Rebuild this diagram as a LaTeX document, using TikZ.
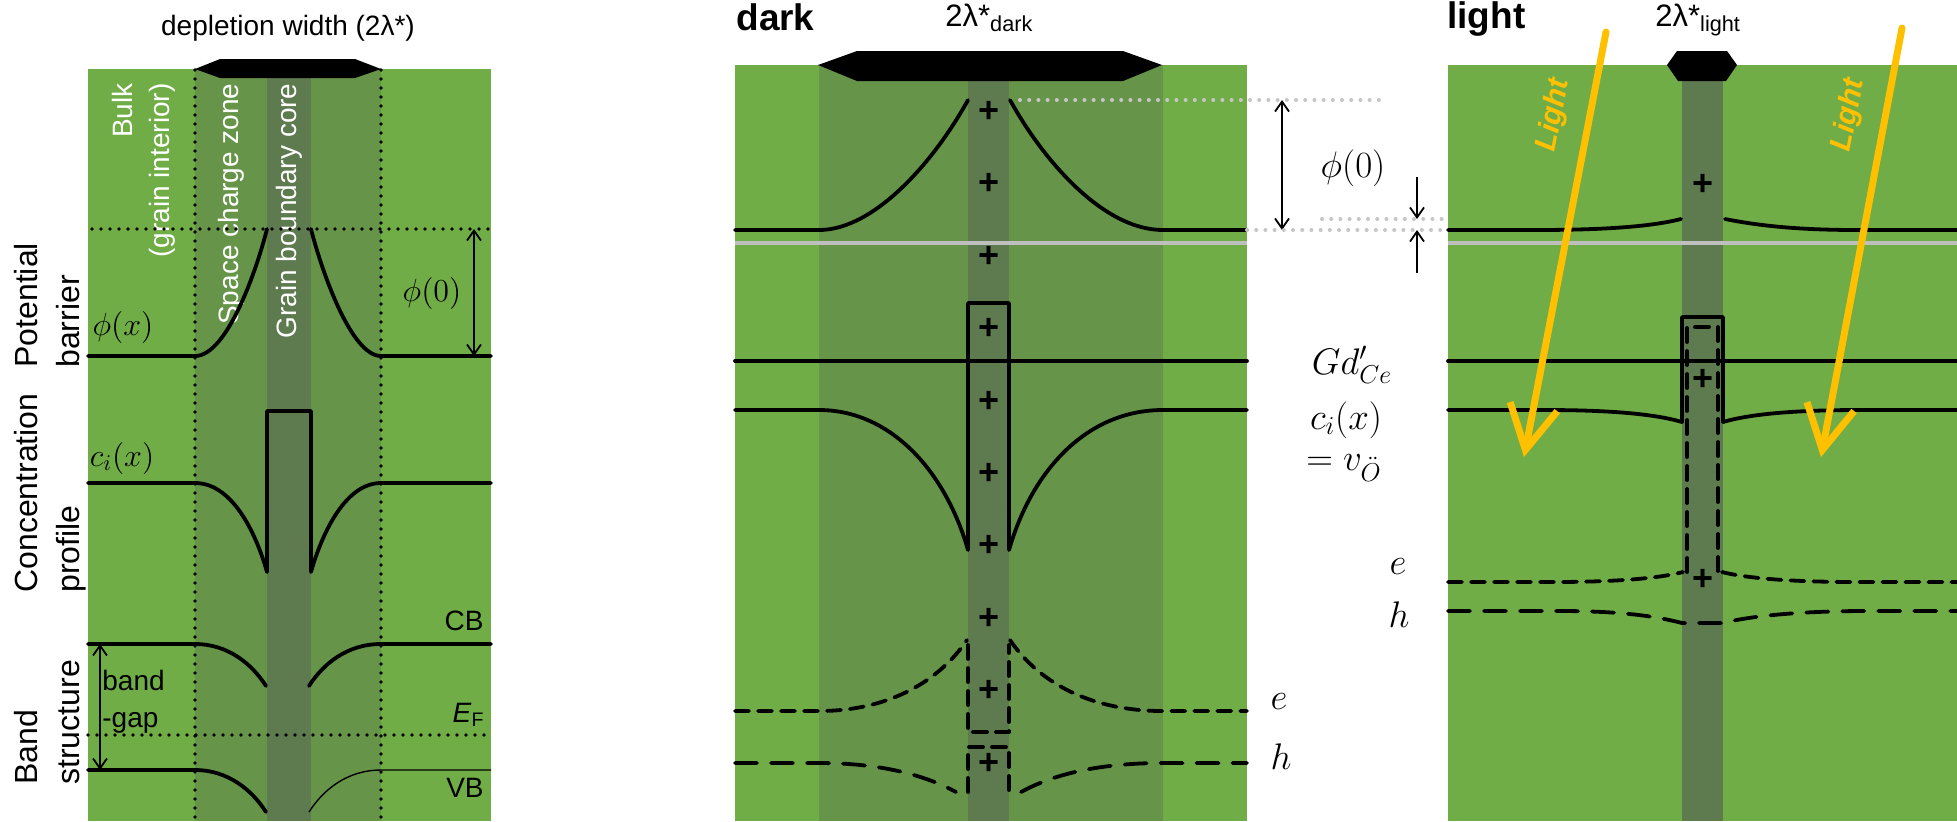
\RequirePackage{fix-cm}
\documentclass[tikz,border=0pt]{standalone}
\usepackage{fontspec}
\setmainfont{Liberation Sans}
\setsansfont{Liberation Sans}
\usepackage{graphicx}
\usetikzlibrary{arrows.meta,positioning}

\definecolor{grain}{HTML}{70AD47}
\definecolor{scz}{HTML}{66954A}
\definecolor{gbcore}{HTML}{5E7A4F}
\definecolor{dotgray}{HTML}{C6C6C6}
\definecolor{linegray}{HTML}{BFBFBF}
\definecolor{lightorange}{HTML}{FFC000}

\begin{document}
\begin{tikzpicture}[x=0.5pt,y=-0.5pt,
  every node/.style={inner sep=0pt},
  bandline/.style={line width=1.9pt,line cap=round,line join=round},
  thinline/.style={line width=0.7pt},
  edash/.style={bandline,dash pattern=on 7pt off 4.5pt},
  hdash/.style={bandline,dash pattern=on 11pt off 7pt},
  bdots/.style={line width=1.9pt,line cap=round,dash pattern=on 0pt off 4.5pt},
  gdots/.style={draw=dotgray,line width=2pt,line cap=round,dash pattern=on 0pt off 4.6pt},
  greyline/.style={draw=linegray,line width=2pt},
  dimarrow/.style={line width=0.9pt,{Straight Barb[length=5pt,width=7pt]}-{Straight Barb[length=5pt,width=7pt]}},
  smallarrow/.style={line width=0.9pt,-{Straight Barb[length=5pt,width=7pt]}},
  lightray/.style={draw=lightorange,line width=3.5pt,line cap=round,-{Straight Barb[length=22pt,width=24pt]}},
  txt/.style={font=\fontsize{14}{18.5}\selectfont},
  zone/.style={txt,text=white,rotate=90,anchor=east},
  rowlbl/.style={font=\fontsize{16}{21}\selectfont,align=left,rotate=90,anchor=north west},
  mathlbl/.style={font=\fontsize{16}{16}\selectfont},
  midlbl/.style={font=\fontsize{18.5}{18.5}\selectfont},
  chg/.style={font=\fontsize{18}{18}\selectfont\bfseries},
  panel/.style={font=\fontsize{18.5}{18.5}\selectfont\bfseries,anchor=base west},
  lamlbl/.style={font=\fontsize{15.5}{15.5}\selectfont,anchor=base west},
  raylbl/.style={text=lightorange,font=\fontsize{15}{15}\selectfont\bfseries\itshape}]
\useasboundingbox (0,0) rectangle (1957,821);

%% ---------- left panel: overview ----------
% Grain, space charge zone, core
\fill[grain] (88,69) rectangle (491,821);
\fill[scz] (195,69) rectangle (381,821);
\fill[gbcore] (267,69) rectangle (311,821);

% Depletion width bar
\fill (195,69) -- (220,59) -- (355,59) -- (381,69) -- (355,78) -- (220,78) -- cycle;
\node[txt,anchor=base] (depl) at (288,35) {depletion width (2λ*)};

% Zone labels
\node[zone,align=right] (bulk) at (144,83) {Bulk\\(grain interior)};
\node[zone] (sczlbl) at (231,83) {Space charge zone};
\node[zone] (corelbl) at (289,83) {Grain boundary core};

% Dotted guides
\draw[bdots] (195,70) -- (195,821);
\draw[bdots] (381,70) -- (381,821);
\draw[bdots] (92,229) -- (491,229);
\draw[bdots] (88,735) -- (491,735);

% Row labels
\node[rowlbl] (pot) at (14,368) {Potential\\barrier};
\node[rowlbl] (conc) at (14,593) {Concentration\\profile};
\node[rowlbl] (band) at (14,785) {Band\\structure};

% Potential barrier
\draw[bandline] (88,356) -- (195,356) .. controls (228,356) and (258,265) .. (267,229);
\draw[bandline] (311,229) .. controls (320,265) and (350,356) .. (381,356) -- (491,356);
\node[mathlbl] (phix) at (123,327) {$\phi(x)$};
\node[mathlbl] (phiz) at (432,293) {$\phi(0)$};
\coordinate (bartop) at (474,229);
\coordinate (barbot) at (474,356);
\draw[dimarrow] (bartop) -- (barbot);

% Concentration profile
\draw[bandline] (88,483) -- (195,483) .. controls (235,483) and (258,540) .. (267,572)
  -- (267,411) -- (311,411) -- (311,572) .. controls (320,540) and (343,483) .. (381,483) -- (491,483);
\node[mathlbl] (cix) at (122,458) {$c_i(x)$};

% Band structure
\draw[bandline] (88,644) -- (195,644) .. controls (228,644) and (252,664) .. (266,686);
\draw[bandline] (309,686) .. controls (323,664) and (347,644) .. (381,644) -- (491,644);
\draw[bandline] (88,770) -- (195,770) .. controls (228,770) and (252,790) .. (266,812);
\draw[thinline] (309,812) .. controls (323,790) and (347,770) .. (381,770) -- (491,770);
\node[txt,anchor=east] (cb) at (484,621) {CB};
\node[txt,anchor=east] (ef) at (485,715) {\textit{E}\textsubscript{F}};
\node[txt,anchor=east] (vb) at (484,788) {VB};
\coordinate (gaptop) at (100,644);
\coordinate (gapbot) at (100,770);
\draw[dimarrow] (gaptop) -- (gapbot);
\node[txt,align=left,anchor=west] (gap) at (102,702) {band\\-gap};

%% ---------- middle panel: dark ----------
\fill[grain] (735,65) rectangle (1247,821);
\fill[scz] (819,65) rectangle (1163,821);
\fill[gbcore] (968,65) rectangle (1009,821);
\fill (818,65) -- (857,51) -- (1123,51) -- (1162,65) -- (1123,81) -- (857,81) -- cycle;
\node[panel] (dark) at (736,30) {dark};
\node[lamlbl] (lamdark) at (945,26) {2λ*\textsubscript{dark}};

% Potential
\draw[gdots] (1020,100) -- (1387,100);
\draw[bandline] (735,230) -- (819,230) .. controls (875,230) and (935,160) .. (968,100);
\draw[bandline] (1010,100) .. controls (1043,160) and (1103,230) .. (1163,230) -- (1247,230);
\draw[greyline] (735,243) -- (1247,243);

% Defect and vacancy profiles
\draw[bandline] (735,361) -- (1247,361);
\draw[bandline] (735,410) -- (819,410) .. controls (890,410) and (945,470) .. (968,550)
  -- (968,303) -- (1009,303) -- (1009,550) .. controls (1032,470) and (1087,410) .. (1163,410) -- (1247,410);

% Electrons and holes
\draw[edash] (735,711) -- (819,711) .. controls (890,711) and (940,680) .. (967,640);
\draw[edash] (968,645) -- (968,732) -- (1009,732) -- (1009,645);
\draw[edash] (1010,640) .. controls (1037,680) and (1087,711) .. (1163,711) -- (1247,711);
\draw[hdash] (735,763) -- (819,763) .. controls (880,763) and (925,775) .. (956,792);
\draw[edash] (968,792) -- (968,747) -- (1009,747) -- (1009,792);
\draw[hdash] (1021,792) .. controls (1052,775) and (1097,763) .. (1163,763) -- (1247,763);
\node[midlbl] (edark) at (1279,702) {$e$};
\node[midlbl] (hdark) at (1281,757) {$h$};

% Core charges
\foreach \k in {0,...,9}
  \node[chg] (pd\k) at (988.5,{112+72.4*\k}) {+};

% Barrier height
\coordinate (dtop) at (1282,100);
\coordinate (dbot) at (1282,230);
\draw[dimarrow] (dtop) -- (dbot);
\node[midlbl] (phid) at (1353,168) {$\phi(0)$};
\draw[gdots] (1247,230) -- (1448,230);
\draw[gdots] (1322,219) -- (1675,219);
\coordinate (ltop) at (1417,219);
\coordinate (lbot) at (1417,230);
\draw[smallarrow] (1417,177) -- (ltop);
\draw[smallarrow] (1417,273) -- (lbot);

% Labels between panels
\node[midlbl] (gdce) at (1352,365) {$Gd'_{Ce}$};
\node[midlbl] (cil) at (1346,420) {$c_i(x)$};
\node[midlbl] (vo) at (1344,468) {$=v_{\ddot{O}}$};
\node[midlbl] (elight) at (1398,567) {$e$};
\node[midlbl] (hlight) at (1399,615) {$h$};

%% ---------- right panel: light ----------
\fill[grain] (1448,65) rectangle (1957,821);
\fill[gbcore] (1682,65) rectangle (1723,821);
\fill (1667,65) -- (1677,51) -- (1727,51) -- (1737,65) -- (1726,81) -- (1678,81) -- cycle;
\node[panel] (light) at (1447,28) {light};
\node[lamlbl] (lamlight) at (1655,26) {2λ*\textsubscript{light}};

% Potential
\draw[bandline] (1448,230) -- (1535,230) .. controls (1600,230) and (1650,227) .. (1681,219);
\draw[bandline] (1725,219) .. controls (1760,226) and (1800,230) .. (1857,230) -- (1957,230);
\draw[greyline] (1448,243) -- (1957,243);

% Defect and vacancy profiles
\draw[bandline] (1448,361) -- (1957,361);
\draw[bandline] (1448,410) -- (1545,410) .. controls (1610,410) and (1655,414) .. (1682,422)
  -- (1682,317) -- (1723,317) -- (1723,422) .. controls (1750,414) and (1795,410) .. (1860,410) -- (1957,410);

% Electrons and holes
\draw[edash] (1687,572) -- (1687,327) -- (1718,327) -- (1718,572);
\draw[edash] (1448,582) -- (1551,582) .. controls (1620,582) and (1660,578) .. (1683,572);
\draw[edash] (1722,572) .. controls (1745,578) and (1790,582) .. (1857,582) -- (1957,582);
\draw[hdash] (1448,611) -- (1560,611) .. controls (1620,611) and (1655,616) .. (1682,623)
  -- (1723,623) .. controls (1750,616) and (1800,611) .. (1866,611) -- (1957,611);

% Core charges
\node[chg] (pl1) at (1702.5,185) {+};
\node[chg] (pl2) at (1702.5,380) {+};
\node[chg] (pl3) at (1702.5,580) {+};

% Incoming light
\coordinate (rayAs) at (1606,32);
\coordinate (rayAe) at (1524,457);
\coordinate (rayBs) at (1902,28);
\coordinate (rayBe) at (1821,457);
\draw[lightray] (rayAs) -- (rayAe);
\draw[lightray] (rayBs) -- (rayBe);
\node[raylbl,rotate=79] (rayAlbl) at (1554,115) {Light};
\node[raylbl,rotate=79] (rayBlbl) at (1849,115) {Light};
\end{tikzpicture}
\end{document}
